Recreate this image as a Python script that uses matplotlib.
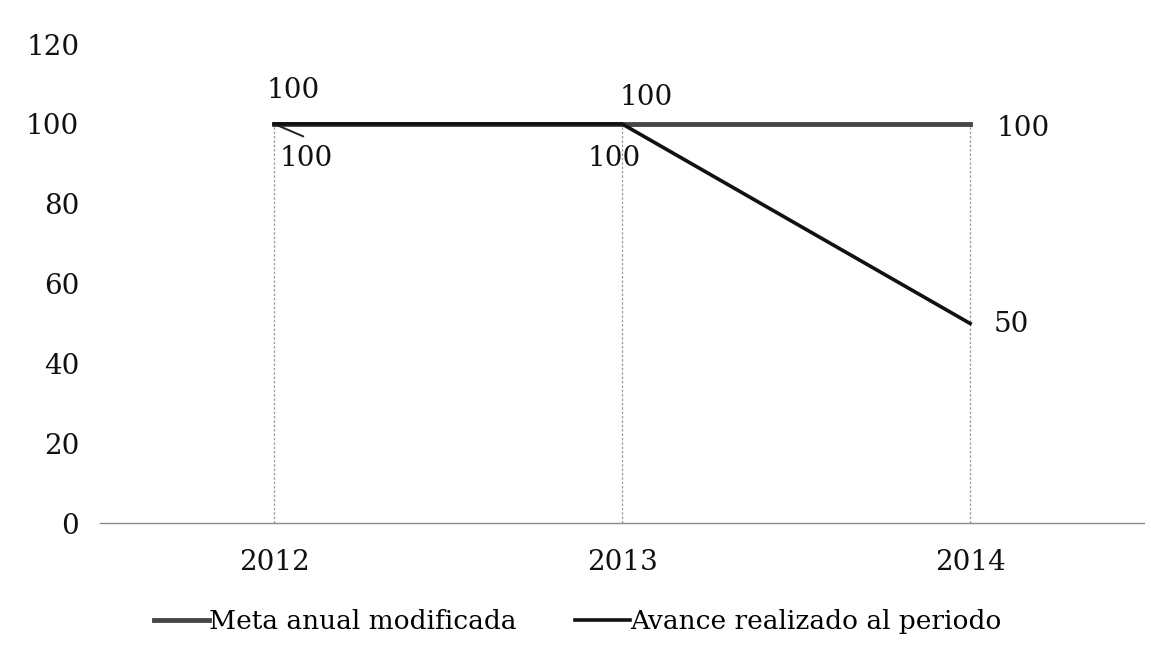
import numpy as np
import matplotlib.pyplot as plt

years = ["2012", "2013", "2014"]
meta = [100, 100, 100]
avance = [100, 100, 50]
yticks = [0, 20, 40, 60, 80, 100, 120]

plt.rcParams['font.family'] = ['DejaVu Serif']
plt.rcParams['font.size'] = 20

fig = plt.figure(figsize=(11.51, 6.68), dpi=100)
ax = fig.add_axes([0.087, 0.217, 0.907, 0.717])

x = np.arange(len(years))

# drop lines from each point to the baseline
ax.vlines(x, 0, np.maximum(meta, avance), colors="#9a9a9a", linewidth=0.9,
          linestyles=(0, (2, 1.5)), zorder=1)

l1, = ax.plot(x, meta, color="#464646", linewidth=3.5, zorder=3,
              label="Meta anual modificada")
l2, = ax.plot(x, avance, color="#111111", linewidth=2.6, zorder=4,
              label="Avance realizado al periodo")

# data labels (offsets in points)
ax.annotate(str(meta[0]), (x[0], meta[0]), xytext=(14, 24), textcoords="offset points",
            ha="center", va="center", color="#111111")
ax.annotate(str(meta[1]), (x[1], meta[1]), xytext=(17, 19), textcoords="offset points",
            ha="center", va="center", color="#111111")
ax.annotate(str(meta[2]), (x[2], meta[2]), xytext=(19, -3), textcoords="offset points",
            ha="left", va="center", color="#111111")
ax.annotate(str(avance[0]), (x[0], avance[0]), xytext=(4, -25), textcoords="offset points",
            ha="left", va="center", color="#111111")
# leader line of the 2012 label
ax.annotate("", (x[0], avance[0]), xytext=(21, -9), textcoords="offset points",
            arrowprops=dict(arrowstyle="-", color="#222222", lw=1.4,
                            shrinkA=0, shrinkB=0))
ax.annotate(str(avance[1]), (x[1], avance[1]), xytext=(-6, -25), textcoords="offset points",
            ha="center", va="center", color="#111111")
ax.annotate(str(avance[2]), (x[2], avance[2]), xytext=(17, -1), textcoords="offset points",
            ha="left", va="center", color="#111111")

ax.set_xlim(-0.5, 2.5)
ax.set_ylim(0, 120)
ax.set_yticks(yticks)
ax.set_xticks(x)
ax.set_xticklabels(years)
ax.tick_params(axis="both", length=0, colors="#111111")
ax.tick_params(axis="y", pad=15)
ax.tick_params(axis="x", pad=19)

for s in ["top", "right", "left"]:
    ax.spines[s].set_visible(False)
ax.spines["bottom"].set_color("#8a8a8a")
ax.spines["bottom"].set_linewidth(1.0)

fig.legend(handles=[l1, l2], loc="center", bbox_to_anchor=(0.502, 0.069), ncol=2,
           frameon=False, fontsize=19, handlelength=2.1, handletextpad=0.0,
           columnspacing=2.2)

fig.savefig("out.png", dpi=100)
